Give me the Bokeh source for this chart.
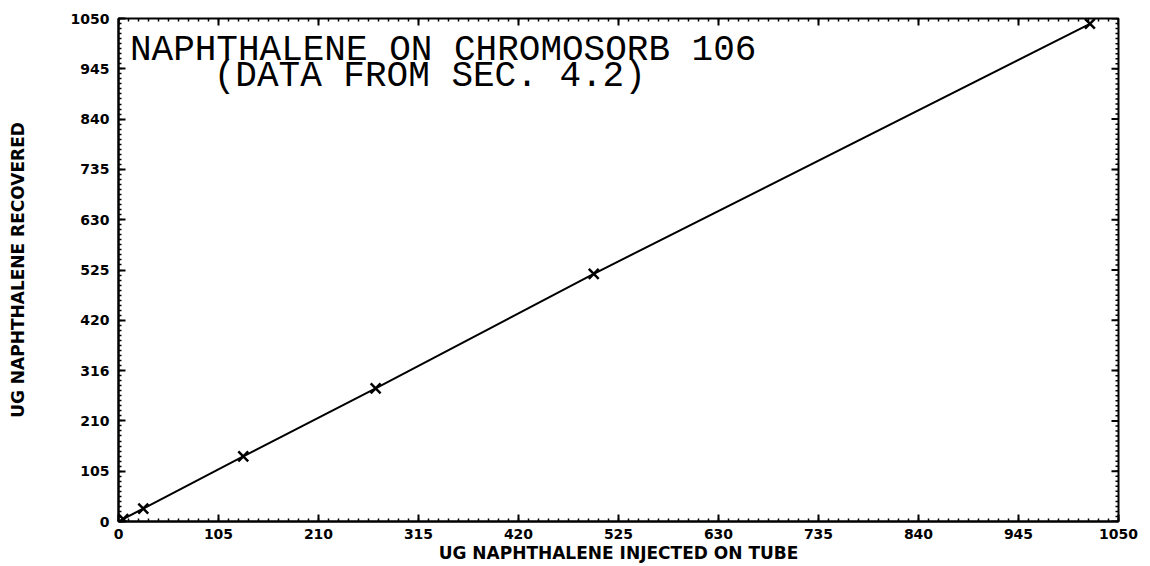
from bokeh.plotting import figure
from bokeh.models import FixedTicker, Range1d, Label
from bokeh.embed import file_html
from bokeh.resources import INLINE

# ---- data ----
injected = [5, 26, 131, 270, 499, 1020]
recovered = [5, 27, 136, 278, 517, 1039]
line_injected = [0, 26, 131, 270, 499, 1020]
line_recovered = [0, 27, 136, 278, 517, 1039]

major_ticks = [0, 105, 210, 315, 420, 525, 630, 735, 840, 945, 1050]
x_tick_labels = ["0", "105", "210", "315", "420", "525", "630", "735", "840", "945", "1050"]
y_tick_labels = ["0", "105", "210", "316", "420", "525", "630", "735", "840", "945", "1050"]
minor_ticks = [i * 10.5 for i in range(101)]

title_line1 = "NAPHTHALENE ON CHROMOSORB 106"
title_line2 = "(DATA FROM SEC. 4.2)"
x_label = "UG NAPHTHALENE INJECTED ON TUBE"
y_label = "UG NAPHTHALENE RECOVERED"

XMIN, XMAX, YMIN, YMAX = 0, 1050, 0, 1050
FW, FH = 1000, 503

p = figure(frame_width=FW, frame_height=FH,
           x_range=Range1d(XMIN, XMAX), y_range=Range1d(YMIN, YMAX),
           output_backend="svg", toolbar_location=None,
           min_border_left=118, min_border_top=18,
           min_border_right=20, min_border_bottom=10,
           background_fill_color="white", border_fill_color="white")

p.grid.visible = False
p.outline_line_color = "black"
p.outline_line_width = 2

xa = p.below[0]
ya = p.left[0]

def style_axis(ax, labels):
    ax.ticker = FixedTicker(ticks=major_ticks, minor_ticks=minor_ticks)
    ax.major_label_overrides = {t: lab for t, lab in zip(major_ticks, labels)}
    ax.major_tick_in = 7
    ax.major_tick_out = 0
    ax.minor_tick_in = 3
    ax.minor_tick_out = 0
    ax.axis_line_width = 2
    ax.axis_line_color = "black"
    ax.major_tick_line_width = 2
    ax.major_tick_line_color = "black"
    ax.minor_tick_line_width = 1.5
    ax.minor_tick_line_color = "black"
    ax.major_label_text_font = "DejaVu Sans"
    ax.major_label_text_font_style = "bold"
    ax.major_label_text_color = "black"
    ax.major_label_text_font_size = "14px"
    ax.axis_label_text_font = "DejaVu Sans"
    ax.axis_label_text_font_style = "bold"
    ax.axis_label_text_font_size = "17px"
    ax.axis_label_text_color = "black"

style_axis(xa, x_tick_labels)
style_axis(ya, y_tick_labels)

xa.major_label_standoff = 7
xa.axis_label = x_label
xa.axis_label_standoff = 1

ya.major_label_standoff = 9
ya.axis_label = y_label
ya.axis_label_standoff = 40

# inward ticks on the top and right edges of the frame
ux = (XMAX - XMIN) / FW
uy = (YMAX - YMIN) / FH
n_maj, n_min = len(major_ticks), len(minor_ticks)
p.segment(x0=major_ticks, y0=[YMAX] * n_maj, x1=major_ticks, y1=[YMAX - 7 * uy] * n_maj,
          line_color="black", line_width=2)
p.segment(x0=minor_ticks, y0=[YMAX] * n_min, x1=minor_ticks, y1=[YMAX - 3 * uy] * n_min,
          line_color="black", line_width=1.5)
p.segment(x0=[XMAX] * n_maj, y0=major_ticks, x1=[XMAX - 7 * ux] * n_maj, y1=major_ticks,
          line_color="black", line_width=2)
p.segment(x0=[XMAX] * n_min, y0=minor_ticks, x1=[XMAX - 3 * ux] * n_min, y1=minor_ticks,
          line_color="black", line_width=1.5)

p.line(line_injected, line_recovered, line_color="black", line_width=2)
p.scatter(injected, recovered, marker="x", size=14, line_color="black", line_width=2.5)

p.add_layout(Label(x=12, y=983, text=title_line1, text_font="Liberation Mono",
                   text_font_size="36px", text_baseline="alphabetic", text_color="black"))
p.add_layout(Label(x=100, y=929, text=title_line2, text_font="Liberation Mono",
                   text_font_size="36px", text_baseline="alphabetic", text_color="black"))

open("out.html", "w").write(file_html(p, INLINE))
